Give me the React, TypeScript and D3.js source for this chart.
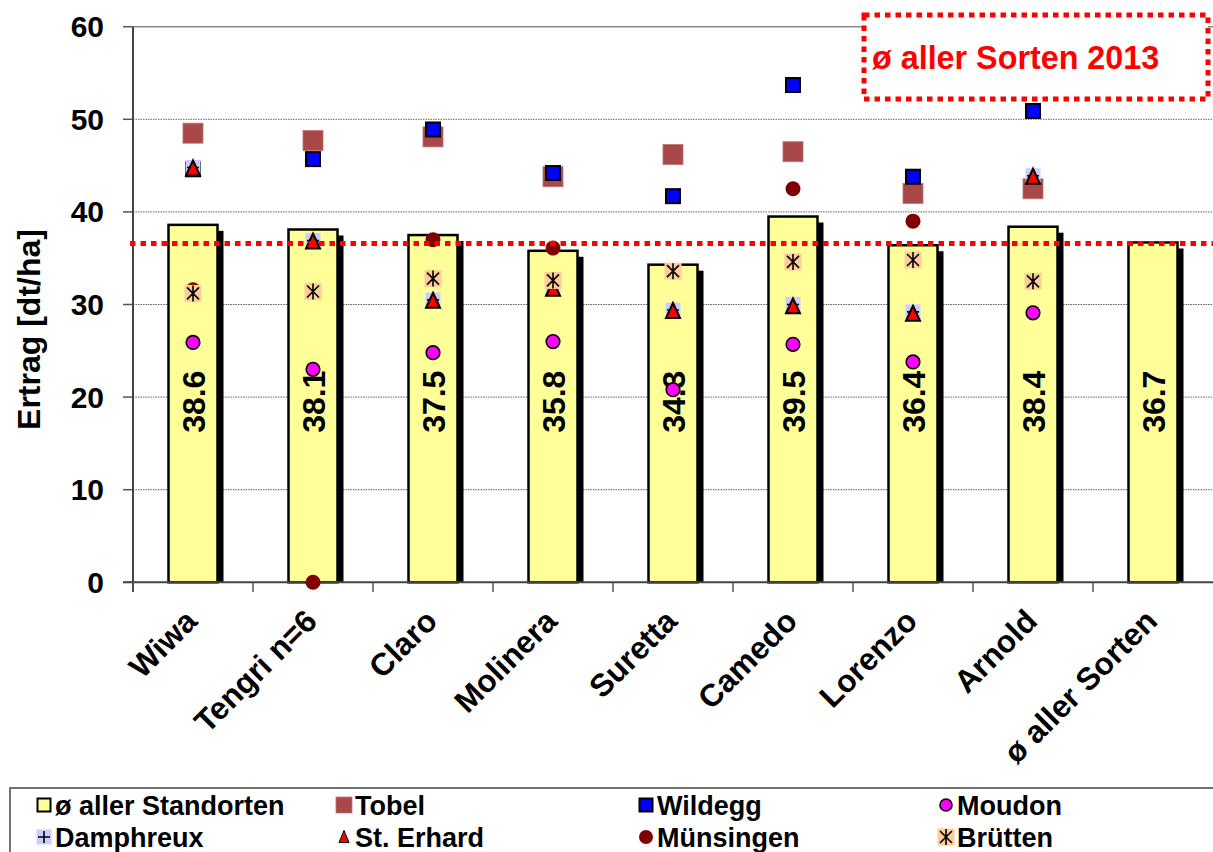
import React from "react";
import * as d3 from "d3";

const categories = ["Wiwa", "Tengri n=6", "Claro", "Molinera", "Suretta", "Camedo", "Lorenzo", "Arnold", "ø aller Sorten"];
const avgStandorte = [38.6, 38.1, 37.5, 35.8, 34.3, 39.5, 36.4, 38.4, 36.7];
const tobel = [48.5, 47.7, 48.1, 43.8, 46.2, 46.5, 42.0, 42.5, null];
const wildegg = [44.6, 45.7, 48.9, 44.2, 41.7, 53.7, 43.8, 50.9, null];
const moudon = [25.9, 23.0, 24.8, 26.0, 20.8, 25.7, 23.8, 29.1, null];
const damphreux = [44.8, 36.9, 30.5, 31.8, 29.4, 30.0, 29.2, 43.9, null];
const stErhard = [44.7, 36.8, 30.4, 31.7, 29.3, 29.8, 29.0, 43.8, null];
const muensingen = [31.6, 0, 37.0, 36.1, null, 42.5, 39.0, null, null];
const bruetten = [31.2, 31.4, 32.8, 32.6, 33.6, 34.6, 34.8, 32.5, null];
const avgAllSorten2013 = 36.6;
const yTicks = [0, 10, 20, 30, 40, 50, 60];
const yLabel = "Ertrag [dt/ha]";
const boxTitle = "ø aller Sorten 2013";

const FONT = "'Liberation Sans', Arial, sans-serif";

type Kind = "avg" | "tobel" | "wildegg" | "moudon" | "damphreux" | "sterhard" | "muensingen" | "bruetten";

function Marker({ kind, x, y, legend = false }: { kind: Kind; x: number; y: number; legend?: boolean }) {
  switch (kind) {
    case "avg":
      return <rect x={x - 6.5} y={y - 6.5} width={13} height={13} fill="#FFFF99" stroke="#000" strokeWidth={2} />;
    case "tobel": {
      const s = legend ? 16 : 20;
      return <rect x={x - s / 2} y={y - s / 2} width={s} height={s} fill="#A84848" stroke="#C07070" strokeWidth={0.8} />;
    }
    case "wildegg": {
      const s = legend ? 13 : 14;
      return <rect x={x - s / 2} y={y - s / 2} width={s} height={s} fill="#0000FF" stroke="#000" strokeWidth={2} />;
    }
    case "moudon":
      return <circle cx={x} cy={y} r={legend ? 6 : 6.8} fill="#FF00FF" stroke="#000" strokeWidth={1.6} />;
    case "damphreux": {
      const s = 15;
      return (
        <g>
          <rect x={x - s / 2} y={y - s / 2} width={s} height={s} fill="#CCCCFF" />
          <path d={`M${x - 6},${y}H${x + 6}M${x},${y - 6}V${y + 6}`} stroke="#000" strokeWidth={1.6} />
        </g>
      );
    }
    case "sterhard": {
      const h = legend ? 11 : 14;
      const w = legend ? 10 : 14;
      return (
        <path
          d={`M${x},${y - h / 2 - 1}L${x + w / 2},${y + h / 2}L${x - w / 2},${y + h / 2}Z`}
          fill="#FF0000"
          stroke="#000"
          strokeWidth={legend ? 1 : 2}
          strokeLinejoin="miter"
        />
      );
    }
    case "muensingen":
      return <circle cx={x} cy={y} r={legend ? 7 : 7.5} fill="#800000" />;
    case "bruetten": {
      const s = 17;
      const a = 6;
      return (
        <g>
          <rect x={x - s / 2} y={y - s / 2} width={s} height={s} fill="#FFCC99" />
          <path
            d={`M${x - a},${y - a}L${x + a},${y + a}M${x - a},${y + a}L${x + a},${y - a}M${x},${y - a - 2}V${y + a + 2}`}
            stroke="#000"
            strokeWidth={1.6}
          />
        </g>
      );
    }
  }
  return null;
}

export default function App() {
  const W = 1213;
  const H = 852;
  const left = 133;
  const right = 1213;
  const y = d3.scaleLinear().domain([0, 60]).range([582.3, 26.7]);
  const x = d3.scaleBand<string>().domain(categories).range([left, right]).padding(0);
  const bw = 49;
  const cx = (c: string) => (x(c) as number) + x.bandwidth() / 2;
  const y0 = y(0);

  const pointSeries: { kind: Kind; data: (number | null)[] }[] = [
    { kind: "tobel", data: tobel },
    { kind: "wildegg", data: wildegg },
    { kind: "moudon", data: moudon },
    { kind: "damphreux", data: damphreux },
    { kind: "sterhard", data: stErhard },
    { kind: "muensingen", data: muensingen },
    { kind: "bruetten", data: bruetten },
  ];

  const legendItems: { kind: Kind; label: string }[] = [
    { kind: "avg", label: "ø aller Standorten" },
    { kind: "tobel", label: "Tobel" },
    { kind: "wildegg", label: "Wildegg" },
    { kind: "moudon", label: "Moudon" },
    { kind: "damphreux", label: "Damphreux" },
    { kind: "sterhard", label: "St. Erhard" },
    { kind: "muensingen", label: "Münsingen" },
    { kind: "bruetten", label: "Brütten" },
  ];
  const legendCols = [55, 355, 657, 957];
  const legendRows = [805, 837];

  return (
    <svg
      width={W}
      height={H}
      style={{ position: "absolute", left: 0, top: 0, background: "#fff" }}
      fontFamily={FONT}
    >
      {/* gridlines */}
      {yTicks.map((t) =>
        t === 0 ? null : (
          <line
            key={"g" + t}
            x1={left}
            x2={right}
            y1={y(t)}
            y2={y(t)}
            stroke={t === 60 ? "#888" : "#666"}
            strokeWidth={t === 60 ? 1.5 : 1}
            strokeDasharray={t === 60 ? undefined : "1.5 1"}
          />
        )
      )}
      {/* y ticks + labels */}
      {yTicks.map((t) => (
        <g key={"t" + t}>
          <line x1={123} x2={left} y1={y(t)} y2={y(t)} stroke="#555" strokeWidth={1.5} />
          <text x={104} y={y(t) + 10.5} textAnchor="end" fontSize={30} fontWeight="bold" fill="#000">
            {t}
          </text>
        </g>
      ))}
      <text
        transform={`translate(40,${y(27.3)}) rotate(-90)`}
        textAnchor="middle"
        fontSize={32}
        fontWeight="bold"
        fill="#000"
      >
        {yLabel}
      </text>

      {/* bars */}
      {categories.map((c, i) => {
        const v = avgStandorte[i];
        const bx = cx(c) - bw / 2;
        return (
          <g key={"b" + c}>
            <rect x={bx + 6} y={y(v) + 6} width={bw} height={y0 - y(v) - 6} fill="#000" />
            <rect x={bx} y={y(v)} width={bw} height={y0 - y(v)} fill="#FFFF99" stroke="#000" strokeWidth={2.5} />
          </g>
        );
      })}

      {/* axes */}
      <line x1={left} x2={left} y1={y(60)} y2={592} stroke="#444" strokeWidth={2} />
      <line x1={123} x2={right} y1={y0} y2={y0} stroke="#444" strokeWidth={2} />
      {categories.map((c) => (
        <line key={"xt" + c} x1={x(c) as number} x2={x(c) as number} y1={y0} y2={592} stroke="#555" strokeWidth={1.5} />
      ))}

      {/* bar value labels */}
      {categories.map((c, i) => (
        <text
          key={"bl" + c}
          transform={`translate(${cx(c) + 11.5},${y(19.5)}) rotate(-90)`}
          textAnchor="middle"
          fontSize={32}
          fontWeight="bold"
          fill="#000"
        >
          {avgStandorte[i].toFixed(1)}
        </text>
      ))}

      {/* point series */}
      {pointSeries.map((s) =>
        s.data.map((v, i) =>
          v === null ? null : <Marker key={s.kind + i} kind={s.kind} x={cx(categories[i])} y={y(v)} />
        )
      )}

      {/* average line */}
      <line
        x1={130}
        x2={right}
        y1={y(avgAllSorten2013)}
        y2={y(avgAllSorten2013)}
        stroke="#FF0000"
        strokeWidth={5}
        strokeDasharray="5.5 5"
      />

      {/* red dotted box */}
      <rect x={864} y={15} width={344} height={84} fill="#fff" stroke="#FF0000" strokeWidth={5} strokeDasharray="5.5 5" />
      <text x={872} y={69} fontSize={32.3} fontWeight="bold" fill="#FF0000">
        {boxTitle}
      </text>

      {/* x labels */}
      {categories.map((c) => (
        <text
          key={"xl" + c}
          transform={`translate(${cx(c) + 6},623) rotate(-45)`}
          textAnchor="end"
          fontSize={31.5}
          fontWeight="bold"
          fill="#000"
        >
          {c}
        </text>
      ))}

      {/* legend */}
      <rect x={10} y={788} width={1210} height={80} fill="#fff" stroke="#444" strokeWidth={1.5} />
      {legendItems.map((it, i) => {
        const col = i % 4;
        const row = Math.floor(i / 4);
        const tx = legendCols[col];
        const ty = legendRows[row];
        return (
          <g key={"lg" + it.label}>
            <Marker kind={it.kind} x={tx - 11} y={ty} legend />
            <text x={tx} y={ty + 9.5} fontSize={27} fontWeight="bold" fill="#000">
              {it.label}
            </text>
          </g>
        );
      })}
    </svg>
  );
}
